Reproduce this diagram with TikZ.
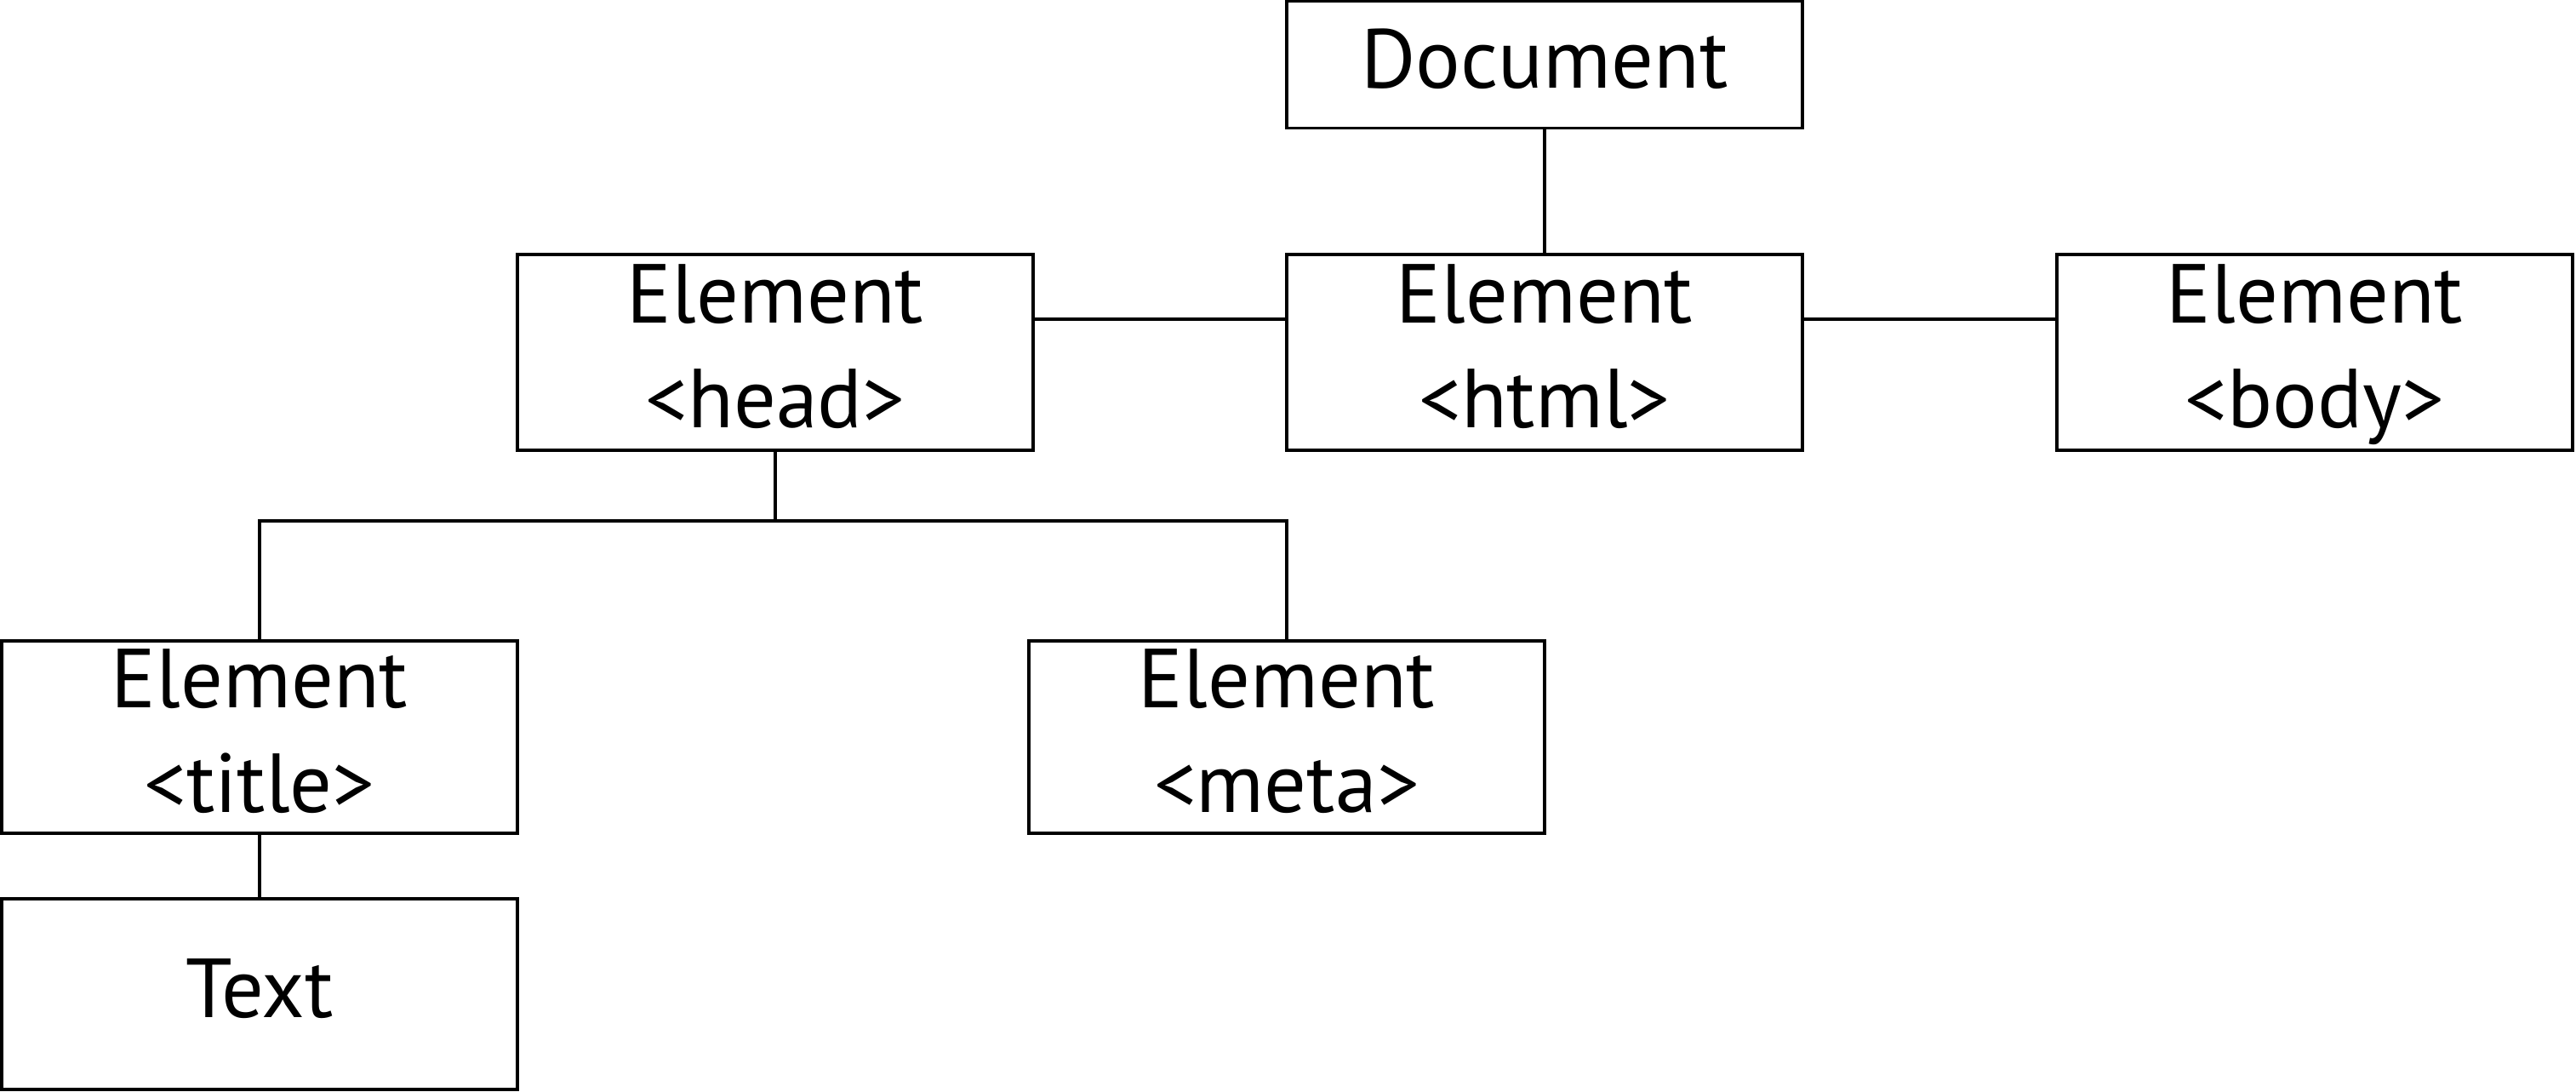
\documentclass[tikz,border=0pt]{standalone}
\usepackage{fontspec}
\setmainfont{PT Sans}
\usetikzlibrary{calc}

\begin{document}
\begin{tikzpicture}[
    elem/.style={draw,line width=1.1pt,minimum width=6.06cm,minimum height=2.3cm,
        inner sep=0pt,align=center,font=\fontsize{28}{35}\selectfont,text depth=4pt},
    link/.style={line width=1.1pt}]
            \useasboundingbox(0,0)rectangle(30.27,12.83);
            %ノード
            \node[elem,minimum height=1.49cm](doc)at(18.15,12.07){Document};
            \node[elem](head)at(9.11,8.69){Element\\<head>};
            \node[elem](html)at(18.15,8.69){Element\\<html>};
            \node[elem](body)at(27.20,8.69){Element\\<body>};
            \node[elem,minimum height=2.26cm](title)at(3.05,4.17){Element\\<title>};
            \node[elem,minimum height=2.26cm](meta)at(15.12,4.17){Element\\<meta>};
            \node[elem,minimum height=2.24cm](txt)at(3.05,1.15){Text};
            %線
            \draw[link](doc)--(html);
            \draw[link]([yshift=0.39cm]head.east)--([yshift=0.39cm]html.west);
            \draw[link]([yshift=0.39cm]html.east)--([yshift=0.39cm]body.west);
            \draw[link](head.south)--++(0,-0.81)coordinate(bus);
            \draw[link](title.north)|-(bus)-|(meta.north);
            \draw[link](title)--(txt);
\end{tikzpicture}
\end{document}
